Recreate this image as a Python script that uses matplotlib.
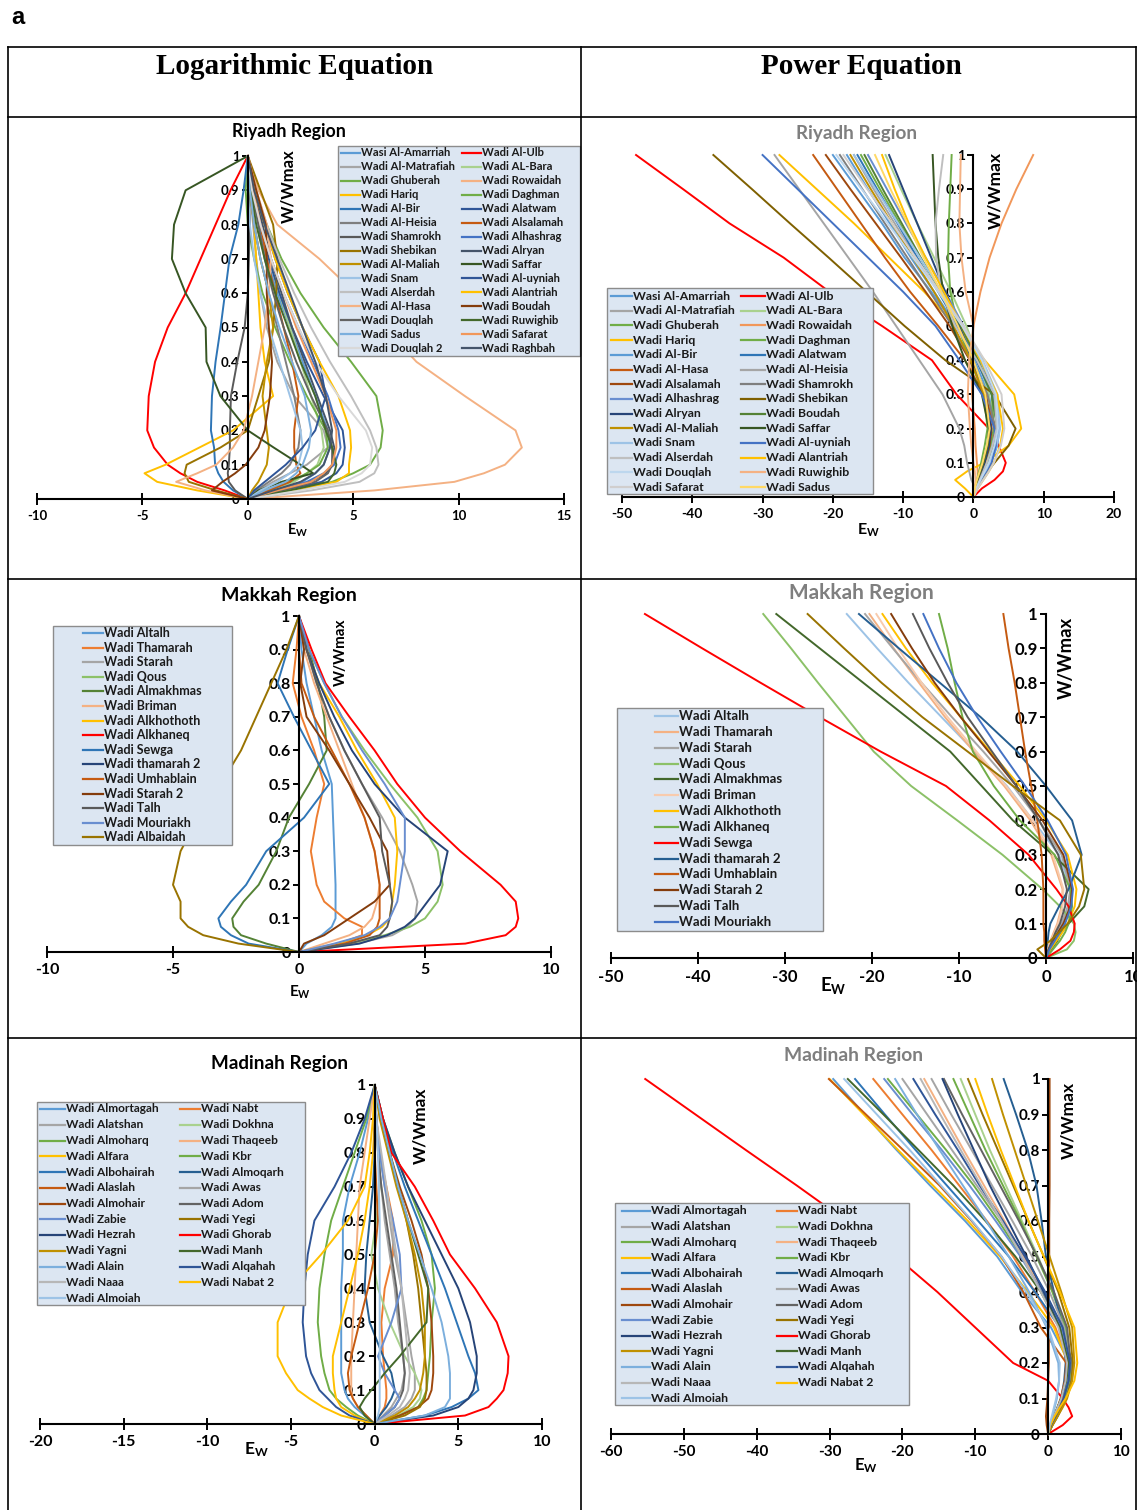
import matplotlib.pyplot as plt
from matplotlib.lines import Line2D
from matplotlib.patches import Rectangle

plt.rcParams['font.family'] = ['Lato', 'DejaVu Sans']
plt.rcParams['mathtext.fontset'] = 'custom'
plt.rcParams['mathtext.rm'] = 'Lato:bold'
plt.rcParams['mathtext.it'] = 'Lato:bold'
plt.rcParams['mathtext.bf'] = 'Lato:bold'

# relative width W/Wmax at which every profile is sampled
w_levels = [0, 0.025, 0.05, 0.075, 0.1, 0.15, 0.2, 0.3, 0.4, 0.5, 0.6, 0.7, 0.8, 0.9, 1.0]

# ---------------- Riyadh, logarithmic equation ----------------
riyadh_log_names = [
    'Wasi Al-Amarriah', 'Wadi Al-Ulb', 'Wadi Al-Matrafiah', 'Wadi AL-Bara',
    'Wadi Ghuberah', 'Wadi Rowaidah', 'Wadi Hariq', 'Wadi Daghman',
    'Wadi Al-Bir', 'Wadi Alatwam', 'Wadi Al-Heisia', 'Wadi Alsalamah',
    'Wadi Shamrokh', 'Wadi Alhashrag', 'Wadi Shebikan', 'Wadi Alryan',
    'Wadi Al-Maliah', 'Wadi Saffar', 'Wadi Snam', 'Wadi Al-uyniah',
    'Wadi Alserdah', 'Wadi Alantriah', 'Wadi Al-Hasa', 'Wadi Boudah',
    'Wadi Douqlah', 'Wadi Ruwighib', 'Wadi Sadus', 'Wadi Safarat',
    'Wadi Douqlah 2', 'Wadi Raghbah']
riyadh_log_colors = [
    '#5B9BD5', '#FF0000', '#A5A5A5', '#A9D18E', '#70AD47', '#F4B183', '#FFC000', '#70AD47',
    '#2E75B6', '#2F5597', '#7F7F7F', '#C55A11', '#595959', '#4472C4', '#997300', '#44546A',
    '#BF9000', '#375623', '#9DC3E6', '#2F5597', '#BFBFBF', '#FFC000', '#F4B183', '#843C0C',
    '#636363', '#43682B', '#7CAFDD', '#F1975A', '#D9D9D9', '#44546A']
riyadh_log_ew = [
    [0, 1.2, 2.6, 3.2, 3.6, 3.9, 3.8, 3.2, 2.6, 2.0, 1.4, 0.9, 0.5, 0.2, 0],
    [0, -1.1, -2.4, -3.2, -3.8, -4.45, -4.77, -4.7, -4.4, -3.8, -2.95, -2.24, -1.53, -0.82, 0],
    [0, 0.5, 1.2, 2.0, 2.8, 3.8, 3.6, 2.2, 1.4, 0.9, 0.6, 0.4, 0.25, 0.1, 0],
    [0, 1.0, 2.2, 2.8, 3.3, 3.6, 3.5, 3.0, 2.5, 2.0, 1.5, 1.0, 0.6, 0.25, 0],
    [0, 2.2, 4.0, 5.0, 5.8, 6.3, 6.4, 6.1, 4.9, 3.6, 2.5, 1.6, 0.9, 0.3, 0],
    [0, 6.0, 9.8, 11.2, 12.2, 13.0, 12.7, 10.3, 8.0, 6.5, 5.1, 3.4, 1.4, 0.5, 0],
    [0, -2.4, -4.3, -4.9, -3.9, -2.3, -0.7, 1.2, 0.8, 0.6, 0.5, 0.4, 0.3, 0.1, 0],
    [0, 0.8, 2.0, 2.8, 3.4, 3.8, 3.7, 2.8, 2.0, 1.3, 0.7, 0.3, 0.0, -0.1, 0],
    [0, -0.7, -1.15, -1.4, -1.55, -1.6, -1.75, -1.7, -1.53, -1.29, -1.08, -0.87, -0.45, -0.2, 0],
    [0, 1.8, 3.5, 4.2, 4.5, 4.6, 4.5, 3.6, 2.8, 2.1, 1.5, 1.0, 0.6, 0.25, 0],
    [0, 0.4, 1.0, 1.6, 2.0, 2.4, 2.5, 2.2, 1.8, 1.4, 1.0, 0.6, 0.3, 0.1, 0],
    [0, 1.0, 2.0, 2.5, 2.3, 2.2, 2.2, 2.4, 2.1, 1.7, 1.3, 0.9, 0.6, 0.2, 0],
    [0, -0.6, -0.9, -0.95, -0.9, -0.85, -0.85, -0.8, -0.5, -0.15, 0, 0.05, 0.1, 0.05, 0],
    [0, 1.4, 2.8, 3.6, 4.1, 4.4, 4.3, 3.8, 3.1, 2.4, 1.7, 1.1, 0.6, 0.2, 0],
    [0, -1.5, -2.8, -3.0, -2.9, -1.3, 0.0, 0.5, 1.0, 1.2, 1.35, 1.4, 1.2, 0.6, 0],
    [0, 1.5, 3.0, 3.7, 4.0, 4.1, 3.9, 3.3, 2.7, 2.1, 1.6, 1.1, 0.7, 0.3, 0],
    [0, 0.2, 0.5, 0.7, 0.9, 1.0, 0.9, 0.7, 0.9, 1.2, 1.0, 0.6, 0.3, 0.1, 0],
    [0, 0.5, 1.6, 3.1, 2.5, 1.23, 0.0, -1.3, -1.96, -2.0, -2.95, -3.6, -3.5, -2.95, 0],
    [0, 0.6, 1.4, 2.0, 2.4, 2.6, 2.5, 2.0, 1.5, 1.0, 0.6, 0.3, 0.1, 0.0, 0],
    [0, 0.3, 0.8, 1.3, 1.8, 2.6, 3.2, 3.7, 3.4, 2.6, 1.9, 1.3, 0.8, 0.3, 0],
    [0, 3.0, 5.3, 6.0, 6.2, 6.1, 5.8, 4.9, 3.9, 3.0, 2.2, 1.5, 0.9, 0.4, 0],
    [0, 2.0, 4.2, 4.8, 4.8, 4.9, 4.85, 4.3, 3.4, 2.6, 1.9, 1.3, 0.8, 0.3, 0],
    [0, -2.0, -3.4, -2.4, -1.5, -0.7, -0.2, 0.2, 0.5, 0.8, 1.0, 1.1, 0.9, 0.4, 0],
    [0, -1.7, -1.2, -0.6, -0.1, 0.5, 0.8, 1.05, 1.15, 1.0, 0.9, 0.9, 0.85, 0.4, 0],
    [0, 1.6, 3.2, 3.8, 4.0, 4.0, 3.8, 3.0, 2.3, 1.7, 1.2, 0.8, 0.5, 0.2, 0],
    [0, 2.0, 3.8, 4.1, 4.2, 4.0, 3.7, 3.2, 2.5, 1.9, 1.3, 0.8, 0.4, 0.15, 0],
    [0, 0.8, 1.8, 2.3, 2.6, 2.9, 3.0, 2.7, 2.1, 1.5, 1.0, 0.6, 0.3, 0.1, 0],
    [0, 1.4, 3.0, 3.6, 4.0, 4.2, 4.2, 3.7, 3.0, 2.3, 1.7, 1.1, 0.6, 0.25, 0],
    [0, 2.5, 4.6, 5.4, 5.8, 5.9, 5.6, 4.3, 3.2, 2.4, 1.7, 1.1, 0.6, 0.2, 0],
    [0, 1.2, 2.5, 3.2, 3.6, 3.9, 4.0, 3.7, 3.2, 2.6, 2.0, 1.4, 0.8, 0.3, 0]]

# ---------------- Riyadh, power equation ----------------
riyadh_pow_names = [
    'Wasi Al-Amarriah', 'Wadi Al-Ulb', 'Wadi Al-Matrafiah', 'Wadi AL-Bara',
    'Wadi Ghuberah', 'Wadi Rowaidah', 'Wadi Hariq', 'Wadi Daghman',
    'Wadi Al-Bir', 'Wadi Alatwam', 'Wadi Al-Hasa', 'Wadi Al-Heisia',
    'Wadi Alsalamah', 'Wadi Shamrokh', 'Wadi Alhashrag', 'Wadi Shebikan',
    'Wadi Alryan', 'Wadi Boudah', 'Wadi Al-Maliah', 'Wadi Saffar',
    'Wadi Snam', 'Wadi Al-uyniah', 'Wadi Alserdah', 'Wadi Alantriah',
    'Wadi Douqlah', 'Wadi Ruwighib', 'Wadi Safarat', 'Wadi Sadus']
riyadh_pow_colors = [
    '#5B9BD5', '#FF0000', '#A5A5A5', '#A9D18E', '#70AD47', '#F1975A', '#FFC000', '#70AD47',
    '#5B9BD5', '#2E75B6', '#C55A11', '#A5A5A5', '#9E480E', '#7F7F7F', '#698ED0', '#7F6000',
    '#264478', '#548235', '#BF9000', '#375623', '#9DC3E6', '#4472C4', '#BFBFBF', '#FFC000',
    '#BDD7EE', '#F4B183', '#D0CECE', '#FFD966']
riyadh_pow_ew = [
    [0, 0.3, 0.8, 1.3, 1.8, 2.6, 3.0, 2.2, 0.1, -2.4, -5.6, -8.9, -11.9, -15.0, -18.0],
    [0, 1.2, 3.0, 4.2, 4.6, 3.6, 2.2, -2.4, -5.9, -13.0, -20.5, -27.0, -34.7, -41.3, -48.0],
    [0, 0.4, 1.0, 1.6, 2.2, 3.0, 3.4, 2.8, 0.6, -2.0, -5.0, -8.2, -11.2, -14.2, -17.0],
    [0, 0.2, 0.6, 1.0, 1.4, 2.0, 2.5, 2.2, 0.8, -1.0, -3.2, -5.6, -8.0, -10.3, -12.5],
    [0, 0.3, 0.7, 1.2, 1.7, 2.4, 2.9, 2.6, 0.7, -1.8, -4.6, -7.6, -10.5, -13.3, -16.0],
    [0, 0.3, 0.6, 0.6, 0.5, 0.3, 0.2, -0.2, -0.3, 0.0, 1.0, 2.3, 4.0, 6.1, 8.5],
    [0, -1.2, -2.6, -0.9, 1.5, 5.0, 6.8, 5.8, 1.6, -2.5, -7.0, -12.0, -17.0, -22.3, -27.6],
    [0, 0.2, 0.5, 0.8, 1.1, 1.6, 2.0, 1.5, -0.5, -2.2, -3.3, -3.6, -3.5, -3.3, -3.1],
    [0, 0.5, 1.2, 1.9, 2.5, 3.4, 3.7, 2.9, 0.5, -2.5, -6.0, -9.8, -13.0, -16.5, -20.0],
    [0, 0.4, 1.0, 1.6, 2.2, 3.1, 3.5, 2.6, 0.4, -2.2, -5.0, -8.0, -10.8, -13.7, -16.5],
    [0, 0.3, 0.8, 1.5, 2.2, 3.0, 3.2, 1.5, -1.2, -5.0, -9.0, -12.6, -16.0, -19.4, -22.8],
    [0, 0.3, -0.3, -0.6, -0.9, -1.3, -2.0, -4.4, -7.7, -11.0, -14.3, -17.8, -21.3, -24.8, -28.3],
    [0, 0.2, 0.6, 1.1, 1.6, 2.3, 2.6, 1.8, -0.5, -3.4, -6.8, -10.3, -13.9, -17.5, -21.0],
    [0, 0.4, 1.0, 1.5, 2.0, 2.8, 3.1, 2.0, -0.4, -3.0, -6.2, -9.4, -12.6, -15.8, -19.0],
    [0, 0.5, 1.1, 1.7, 2.3, 3.2, 3.6, 3.0, 1.0, -1.4, -4.0, -6.8, -9.6, -12.3, -15.0],
    [0, 0.4, 1.0, 2.0, 3.0, 5.0, 6.0, 3.0, -4.0, -9.8, -15.2, -20.6, -26.1, -31.5, -37.0],
    [0, 0.3, 0.8, 1.2, 1.6, 2.2, 2.5, 1.6, -0.2, -2.0, -4.0, -6.0, -8.0, -10.0, -12.0],
    [0, 0.3, 0.9, 1.5, 2.1, 3.0, 3.4, 2.6, 0.6, -1.8, -4.6, -7.5, -10.2, -12.9, -15.5],
    [0, 0.2, 0.6, 1.0, 1.4, 2.0, 2.3, 1.5, -0.4, -2.8, -5.6, -8.6, -11.6, -14.6, -17.5],
    [0, 0.2, 0.6, 1.0, 1.4, 2.0, 2.2, 1.2, -1.2, -3.0, -4.3, -5.0, -5.4, -5.6, -5.8],
    [0, 0.5, 1.2, 1.8, 2.4, 3.3, 3.8, 3.4, 1.3, -1.5, -4.5, -7.6, -10.7, -13.9, -17.0],
    [0, 0.5, 1.2, 2.0, 2.6, 3.2, 3.0, 1.2, -2.0, -5.4, -10.0, -15.0, -20.0, -25.0, -30.0],
    [0, 0.4, 0.9, 1.4, 1.9, 2.7, 3.3, 3.0, 0.5, -2.6, -4.6, -5.3, -5.4, -4.9, -4.3],
    [0, 0.6, 1.4, 2.2, 2.9, 3.8, 4.2, 3.4, 1.0, -1.6, -4.2, -6.8, -9.2, -11.2, -13.0],
    [0, 0.4, 1.0, 1.6, 2.2, 3.0, 3.5, 3.2, 1.2, -1.6, -5.0, -8.6, -12.2, -15.9, -19.5],
    [0, 0.2, 0.3, 0.2, 0.0, -0.3, -0.5, -0.8, -0.6, 0.0, -1.1, -1.7, -2.0, -1.9, -1.8],
    [0, 0.6, 1.4, 2.2, 2.9, 3.9, 4.4, 4.0, 1.6, -1.4, -4.8, -8.2, -11.6, -15.1, -18.5],
    [0, 0.2, 0.5, 0.9, 1.3, 1.9, 2.3, 1.7, 0.0, -2.2, -4.6, -7.1, -9.4, -11.8, -14.0]]

# ---------------- Makkah, logarithmic equation ----------------
makkah_log_names = [
    'Wadi Altalh', 'Wadi Thamarah', 'Wadi Starah', 'Wadi Qous', 'Wadi Almakhmas',
    'Wadi Briman', 'Wadi Alkhothoth', 'Wadi Alkhaneq', 'Wadi Sewga', 'Wadi thamarah 2',
    'Wadi Umhablain', 'Wadi Starah 2', 'Wadi Talh', 'Wadi Mouriakh', 'Wadi Albaidah']
makkah_log_colors = [
    '#5B9BD5', '#ED7D31', '#A5A5A5', '#8CC168', '#548235', '#F4B183', '#FFC000', '#FF0000',
    '#2E75B6', '#264478', '#C55A11', '#843C0C', '#595959', '#698ED0', '#997300']
makkah_log_ew = [
    [0, 0.3, 0.9, 1.3, 1.45, 1.45, 1.45, 1.4, 1.35, 1.3, 0.9, 0.6, 0.3, 0.1, 0],
    [0, 1.6, 2.5, 2.5, 1.8, 1.0, 0.7, 0.47, 0.7, 1.0, 0.6, 0.1, -0.25, -0.1, 0],
    [0, 2.3, 3.7, 4.3, 4.6, 4.7, 4.5, 4.0, 3.3, 2.5, 1.8, 1.2, 0.7, 0.3, 0],
    [0, 2.0, 3.4, 4.4, 5.0, 5.5, 5.7, 5.5, 4.7, 3.6, 2.6, 1.7, 1.0, 0.4, 0],
    [0, -1.3, -2.3, -2.6, -2.65, -2.2, -1.6, -0.9, -0.4, 0.4, 1.1, 1.0, 0.75, 0.4, 0],
    [0, 1.0, 2.0, 2.6, 2.9, 3.1, 3.2, 3.0, 2.6, 2.1, 1.6, 1.1, 0.6, 0.2, 0],
    [0, 1.5, 2.7, 3.3, 3.6, 3.7, 3.8, 3.9, 3.8, 3.1, 2.3, 1.6, 0.8, 0.3, 0],
    [0, 6.6, 8.2, 8.6, 8.7, 8.6, 8.0, 6.4, 5.0, 3.9, 3.0, 2.0, 1.05, 0.5, 0],
    [0, -2.0, -2.7, -3.1, -3.2, -2.7, -2.1, -1.3, 0.2, 1.2, 0.5, -0.2, -0.85, -0.45, 0],
    [0, 2.4, 3.5, 4.2, 4.6, 5.1, 5.6, 5.9, 4.2, 3.0, 2.1, 1.4, 0.8, 0.3, 0],
    [0, 1.8, 2.8, 3.1, 3.2, 3.2, 3.2, 3.0, 2.6, 2.0, 1.3, 0.6, 0.1, 0.0, 0],
    [0, 0.2, 1.0, 1.5, 2.0, 3.0, 3.6, 3.5, 2.8, 2.0, 1.2, 0.3, 0.05, 0.2, 0],
    [0, 2.0, 3.2, 3.5, 3.6, 3.7, 3.6, 3.3, 3.2, 2.5, 1.8, 1.2, 0.7, 0.3, 0],
    [0, 1.4, 2.6, 3.2, 3.6, 3.9, 4.0, 4.2, 4.2, 3.4, 2.5, 1.7, 1.0, 0.4, 0],
    [0, -2.4, -3.8, -4.4, -4.7, -4.7, -5.0, -4.7, -4.0, -3.1, -2.3, -1.7, -1.1, -0.5, 0]]

# ---------------- Makkah, power equation ----------------
makkah_pow_names = [
    'Wadi Altalh', 'Wadi Thamarah', 'Wadi Starah', 'Wadi Qous', 'Wadi Almakhmas',
    'Wadi Briman', 'Wadi Alkhothoth', 'Wadi Alkhaneq', 'Wadi Sewga', 'Wadi thamarah 2',
    'Wadi Umhablain', 'Wadi Starah 2', 'Wadi Talh', 'Wadi Mouriakh', 'Wadi Albaidah']
makkah_pow_colors = [
    '#9DC3E6', '#F4B183', '#A5A5A5', '#8CC168', '#43682B', '#F8CBAD', '#FFC000', '#70AD47',
    '#FF0000', '#255E91', '#C55A11', '#843C0C', '#595959', '#4472C4', '#997300']
makkah_pow_ew = [
    [0, 0.3, 0.8, 1.3, 1.8, 2.6, 2.8, 1.5, -1.5, -4.5, -8.2, -12.0, -15.8, -19.4, -22.9],
    [0, 0.2, 0.5, 0.9, 1.3, 1.8, 1.9, 0.6, -1.8, -4.8, -8.3, -11.6, -14.6, -17.5, -20.3],
    [0, 0.3, 0.8, 1.3, 1.8, 2.5, 2.8, 1.8, -0.8, -3.8, -7.2, -10.8, -14.3, -17.6, -20.8],
    [0, 2.4, 3.2, 3.4, 3.2, 1.6, -0.4, -5.0, -10.2, -15.5, -19.8, -23.0, -26.2, -29.3, -32.5],
    [0, 0.6, 1.3, 1.8, 2.6, 4.4, 4.9, 0.8, -3.8, -7.4, -11.0, -16.0, -21.0, -26.0, -31.0],
    [0, 0.2, 0.6, 1.0, 1.4, 1.9, 2.0, 0.8, -1.5, -4.6, -8.0, -11.3, -14.3, -17.0, -19.5],
    [0, 0.5, 1.2, 1.9, 2.5, 3.3, 3.5, 2.5, 0.0, -3.0, -6.4, -9.8, -13.1, -16.1, -18.8],
    [0, 0.8, 1.6, 2.2, 2.6, 3.0, 2.8, 1.0, -3.0, -6.0, -8.4, -9.6, -10.5, -11.3, -12.3],
    [0, 1.6, 2.8, 3.2, 3.3, 2.6, 1.2, -2.0, -6.5, -11.5, -19.0, -26.0, -32.8, -39.5, -46.1],
    [0, 0.0, 0.2, 0.3, 0.5, 1.5, 2.6, 4.1, 3.0, 0.0, -3.3, -7.5, -12.2, -16.9, -21.5],
    [0, -0.1, -0.2, -0.2, -0.3, -0.3, -0.3, -0.5, -1.0, -1.7, -2.4, -3.0, -3.6, -4.3, -4.9],
    [0, 0.3, 0.8, 1.4, 2.0, 2.8, 3.0, 2.0, -0.4, -3.4, -6.6, -9.8, -12.8, -15.4, -17.8],
    [0, 0.3, 0.7, 1.1, 1.6, 2.2, 2.4, 1.4, -0.8, -3.4, -6.2, -9.0, -11.3, -13.4, -15.3],
    [0, 0.4, 1.0, 1.6, 2.2, 2.9, 3.1, 2.3, 0.2, -2.4, -5.2, -7.9, -10.3, -12.3, -14.1],
    [0, -1.0, 0.5, 1.5, 2.5, 3.8, 4.4, 4.0, 1.6, -3.8, -9.0, -14.2, -18.9, -23.2, -27.4]]

# ---------------- Madinah (same wadis in both panels) ----------------
madinah_names = [
    'Wadi Almortagah', 'Wadi Nabt', 'Wadi Alatshan', 'Wadi Dokhna', 'Wadi Almoharq',
    'Wadi Thaqeeb', 'Wadi Alfara', 'Wadi Kbr', 'Wadi Albohairah', 'Wadi Almoqarh',
    'Wadi Alaslah', 'Wadi Awas', 'Wadi Almohair', 'Wadi Adom', 'Wadi Zabie',
    'Wadi Yegi', 'Wadi Hezrah', 'Wadi Ghorab', 'Wadi Yagni', 'Wadi Manh',
    'Wadi Alain', 'Wadi Alqahah', 'Wadi Naaa', 'Wadi Nabat 2', 'Wadi Almoiah']
madinah_colors = [
    '#5B9BD5', '#ED7D31', '#A5A5A5', '#A9D18E', '#70AD47', '#F4B183', '#FFC000', '#70AD47',
    '#2E75B6', '#255E91', '#C55A11', '#A5A5A5', '#9E480E', '#636363', '#698ED0', '#997300',
    '#264478', '#FF0000', '#BF9000', '#43682B', '#7CAFDD', '#2F5597', '#B7B7B7', '#FFC000',
    '#9DC3E6']
madinah_log_ew = [
    [0, -0.6, -1.2, -1.6, -1.8, -2.0, -2.0, -2.0, -2.0, -1.9, -1.9, -1.5, -0.9, -0.4, 0],
    [0, 0.3, 0.6, 0.7, 0.7, 0.6, 0.5, 0.4, 0.6, 1.1, 1.1, 0.7, 0.3, 0.1, 0],
    [0, 1.0, 1.8, 2.2, 2.4, 2.4, 2.2, 1.9, 1.6, 1.2, 0.9, 0.6, 0.3, 0.1, 0],
    [0, 1.4, 2.3, 2.7, 2.8, 2.4, 1.8, 0.9, 0.2, -0.2, 0.1, 0.3, 0.3, 0.1, 0],
    [0, -1.0, -1.7, -2.3, -2.7, -3.0, -3.2, -3.4, -3.3, -3.0, -2.6, -1.9, -1.2, -0.5, 0],
    [0, -0.5, -1.0, -1.3, -1.4, -1.4, -1.4, -1.3, -1.2, -1.1, -1.0, -0.9, -0.6, -0.3, 0],
    [0, -1.2, -2.0, -2.3, -2.4, -2.5, -2.5, -2.0, -1.5, -1.0, -0.6, -0.3, -0.1, 0.0, 0],
    [0, 1.5, 2.6, 2.9, 3.1, 3.2, 3.3, 3.4, 3.6, 3.4, 2.8, 2.0, 1.2, 0.5, 0],
    [0, 3.0, 4.6, 5.6, 6.2, 6.0, 5.6, 4.9, 4.2, 3.4, 2.6, 1.8, 1.1, 0.5, 0],
    [0, 0.3, 0.7, 1.0, 1.2, 1.0, 0.5, -0.3, -0.6, -0.5, -0.3, -0.1, 0.0, 0.0, 0],
    [0, -0.5, -1.0, -1.3, -1.5, -1.6, -1.4, -0.9, -0.4, 0.0, 0.2, 0.1, 0.0, 0.0, 0],
    [0, 0.5, 1.0, 1.3, 1.6, 1.8, 1.7, 1.4, 1.2, 0.9, 0.6, 0.4, 0.2, 0.1, 0],
    [0, 1.5, 2.6, 3.2, 3.4, 3.5, 3.5, 3.4, 3.2, 2.8, 2.2, 1.5, 0.9, 0.4, 0],
    [0, 0.6, 1.2, 1.5, 1.7, 1.8, 1.7, 1.5, 1.3, 1.0, 0.7, 0.4, 0.2, 0.1, 0],
    [0, 0.6, 1.2, 1.5, 1.2, 0.6, 0.2, 1.0, 1.6, 1.5, 1.1, 0.6, 0.3, 0.1, 0],
    [0, 1.8, 2.7, 3.0, 3.1, 3.1, 3.0, 2.8, 2.6, 2.3, 1.9, 1.4, 0.9, 0.4, 0],
    [0, 3.5, 5.0, 5.6, 5.9, 6.1, 6.1, 5.7, 5.0, 4.0, 3.0, 2.0, 1.2, 0.5, 0],
    [0, 5.4, 6.8, 7.3, 7.7, 7.95, 8.0, 7.3, 6.0, 4.5, 3.5, 2.4, 1.0, 0.5, 0],
    [0, 1.2, 2.0, 2.4, 2.7, 2.9, 3.0, 3.0, 2.8, 2.4, 1.9, 1.3, 0.8, 0.3, 0],
    [0, -0.6, -0.9, -0.6, -0.2, 0.6, 1.5, 3.1, 3.2, 2.6, 2.0, 1.4, 0.9, 0.4, 0],
    [0, 3.0, 4.2, 4.5, 4.5, 4.5, 4.4, 4.0, 3.4, 2.7, 2.0, 1.4, 0.9, 0.4, 0],
    [0, -1.5, -2.3, -2.8, -3.3, -3.8, -4.1, -4.3, -4.2, -4.0, -3.6, -2.4, -1.4, -0.6, 0],
    [0, 0.8, 1.5, 1.8, 2.0, 2.1, 2.0, 1.8, 1.6, 1.3, 1.0, 0.7, 0.4, 0.1, 0],
    [0, -2.0, -3.1, -3.9, -4.6, -5.3, -5.8, -5.8, -5.0, -3.2, -1.6, -0.6, -0.3, -0.1, 0],
    [0, 0.2, 0.3, 0.3, 0.3, 0.3, 0.3, 0.3, 0.3, 0.3, 0.3, 0.25, 0.2, 0.1, 0]]
madinah_pow_ew = [
    [0, 0.5, 1.1, 1.6, 2.1, 2.7, 2.9, 0.4, -3.6, -7.0, -11.4, -16.2, -20.8, -25.2, -29.5],
    [0, 0.4, 1.0, 1.5, 2.0, 2.6, 2.8, 1.0, -1.8, -4.8, -8.4, -12.2, -16.0, -20.0, -24.0],
    [0, 0.5, 1.1, 1.7, 2.3, 3.0, 3.2, 2.0, -0.5, -3.2, -6.4, -9.8, -13.2, -16.6, -20.0],
    [0, 0.4, 0.9, 1.4, 1.9, 2.6, 2.9, 2.3, 0.6, -1.4, -3.6, -5.8, -8.0, -10.0, -12.0],
    [0, 0.3, 0.8, 1.3, 1.8, 2.5, 2.8, 1.8, -0.6, -3.6, -6.8, -10.2, -14.0, -18.0, -22.0],
    [0, 0.4, 0.9, 1.4, 1.9, 2.5, 2.7, 1.6, -0.8, -3.4, -6.0, -8.8, -11.6, -14.3, -17.0],
    [0, 0.3, 0.8, 1.3, 1.8, 2.5, 2.7, 0.8, -2.8, -6.6, -11.0, -15.8, -20.6, -25.3, -30.0],
    [0, 0.5, 1.1, 1.7, 2.2, 2.9, 3.1, 2.4, 0.6, -1.6, -3.8, -6.2, -8.6, -10.8, -13.0],
    [0, 0.6, 1.3, 1.9, 2.5, 3.2, 3.4, 1.6, -1.8, -5.4, -9.6, -13.9, -18.2, -22.4, -26.5],
    [0, 0.5, 1.0, 1.4, 1.8, 2.2, 2.4, 2.0, 0.8, -0.3, -0.9, -1.6, -2.8, -4.4, -6.1],
    [0, 0.4, 0.9, 1.3, 1.7, 2.3, 2.5, -1.0, -3.4, -6.4, -10.5, -14.9, -19.9, -25.0, -30.1],
    [0, 0.4, 1.0, 1.5, 2.0, 2.7, 3.0, 2.2, 0.2, -2.2, -4.9, -7.7, -10.5, -13.3, -16.0],
    [0, -0.2, -0.3, -0.2, -0.1, 0.0, 0.1, 0.1, 0.1, 0.15, 0.15, 0.2, 0.2, 0.2, 0.2],
    [0, 0.5, 1.1, 1.6, 2.1, 2.8, 3.1, 2.6, 0.8, -1.5, -4.0, -6.6, -9.2, -11.8, -14.3],
    [0, 0.4, 1.0, 1.5, 2.0, 2.7, 3.0, 1.8, -0.8, -3.8, -7.2, -10.8, -14.6, -18.6, -22.5],
    [0, 0.6, 1.3, 1.9, 2.5, 3.2, 3.4, 2.9, 1.4, -0.6, -2.7, -4.8, -6.9, -9.0, -11.0],
    [0, 0.3, 0.8, 1.3, 1.8, 2.4, 2.6, 1.6, -0.6, -3.0, -5.5, -8.0, -10.2, -12.4, -14.5],
    [0, 2.0, 3.3, 2.8, 2.0, 0.0, -4.8, -10.0, -15.2, -20.9, -27.7, -34.5, -41.5, -48.4, -55.3],
    [0, 0.6, 1.3, 2.0, 2.6, 3.3, 3.6, 3.3, 1.8, 0.2, -1.4, -3.0, -4.6, -6.2, -7.7],
    [0, 0.3, 0.8, 1.3, 1.8, 2.5, 2.8, 1.6, -1.0, -4.5, -8.6, -13.0, -17.8, -22.6, -27.5],
    [0, 0.3, 0.6, 0.9, 1.2, 1.5, 1.4, -0.2, -2.6, -5.4, -8.5, -11.7, -14.9, -18.0, -21.0],
    [0, 0.4, 1.0, 1.5, 2.1, 2.8, 3.0, 2.0, -0.4, -3.2, -6.2, -9.4, -12.4, -15.5, -18.5],
    [0, 0.3, 0.8, 1.3, 1.8, 2.4, 2.6, 1.4, -1.0, -3.6, -6.4, -9.2, -12.0, -14.8, -17.5],
    [0, 0.3, 0.9, 1.6, 2.4, 3.6, 4.0, 3.6, 1.6, -0.6, -2.7, -4.6, -6.5, -8.3, -10.0],
    [0, 0.2, 0.5, 0.8, 1.1, 1.5, 1.6, 0.0, -3.0, -6.4, -10.4, -14.7, -19.0, -23.5, -28.0]]

W, H = 1137, 1510
fig = plt.figure(figsize=(W / 100, H / 100), dpi=100)


def fx(px):
    return px / W


def fy(py):
    return 1 - py / H


def legend_box(names, colors, box, columns, first_row, pitch, size):
    """Excel-style legend: entries run along rows, then down."""
    x0, y0, x1, y1 = box
    fig.add_artist(Rectangle((fx(x0), fy(y1)), fx(x1) - fx(x0), fy(y0) - fy(y1),
                             transform=fig.transFigure, facecolor='#DCE6F2',
                             edgecolor='#8C8C8C', lw=1.0, zorder=4))
    ncol = len(columns)
    for i, (name, c) in enumerate(zip(names, colors)):
        h0, h1 = columns[i % ncol]
        y = first_row + (i // ncol) * pitch
        fig.add_artist(Line2D([fx(h0), fx(h1)], [fy(y), fy(y)], transform=fig.transFigure,
                              color=c, lw=1.6, zorder=5))
        fig.text(fx(h1 + 1), fy(y), name, ha='left', va='center', fontsize=size,
                 fontweight='bold', color='#1A1A1A', zorder=6)


def panel(box, xlim, xticks, names, ew, colors, title, title_xy, title_size, title_color,
          tick_size, ew_xy, ew_size, wmax_xy, wmax_size):
    x0, x1, y0, y1 = box  # pixel positions of the data window
    ax = fig.add_axes([fx(x0), fy(y0), fx(x1) - fx(x0), fy(y1) - fy(y0)])
    ax.patch.set_visible(False)
    for xs, c in zip(ew, colors):
        ax.plot(xs, w_levels, color=c, lw=1.4, clip_on=False)
    ax.set_xlim(*xlim)
    ax.set_ylim(0, 1)
    ax.spines['left'].set_position(('data', 0))
    ax.spines['top'].set_visible(False)
    ax.spines['right'].set_visible(False)
    for s in ('left', 'bottom'):
        ax.spines[s].set_linewidth(1.5)
    ax.set_xticks(xticks)
    ax.set_xticklabels([str(t) for t in xticks])
    yt = [i / 10 for i in range(11)]
    ax.set_yticks(yt)
    ax.set_yticklabels(['0'] + ['%.1f' % v for v in yt[1:-1]] + ['1'])
    ax.tick_params(axis='x', direction='inout', length=8, width=1.4, labelsize=tick_size, pad=4)
    ax.tick_params(axis='y', direction='out', length=4, width=1.4, labelsize=tick_size, pad=2)
    for lab in ax.get_xticklabels() + ax.get_yticklabels():
        lab.set_fontweight('bold')

    fig.text(fx(title_xy[0]), fy(title_xy[1]), title, ha='center', va='center',
             fontsize=title_size, fontweight='bold', color=title_color)
    fig.text(fx(ew_xy[0]), fy(ew_xy[1]), r'E$_\mathrm{W}$', ha='center', va='center',
             fontsize=ew_size, fontweight='bold')
    fig.text(fx(wmax_xy[0]), fy(wmax_xy[1]), 'W/Wmax', ha='center', va='center',
             rotation=90, fontsize=wmax_size, fontweight='bold')
    return ax


# Riyadh
panel((37, 564, 499, 156), (-10, 15), [-10, -5, 0, 5, 10, 15],
      riyadh_log_names, riyadh_log_ew, riyadh_log_colors,
      'Riyadh Region', (289, 132), 12.8, 'black', 9.5, (298, 530), 10.5, (288, 186), 12)
legend_box(riyadh_log_names, riyadh_log_colors, (338, 146, 580, 356),
           [(341, 360), (462, 481)], 153, 13.93, 8.1)

panel((622, 1114, 497, 155), (-50, 20), [-50, -40, -30, -20, -10, 0, 10, 20],
      riyadh_pow_names, riyadh_pow_ew, riyadh_pow_colors,
      'Riyadh Region', (857, 133), 13.6, '#7F7F7F', 10, (868, 530), 11.5, (995, 190), 12.5)
legend_box(riyadh_pow_names, riyadh_pow_colors, (607, 288, 873, 494),
           [(611, 632), (741, 765)], 296, 14.7, 8.8)

# Makkah
panel((47, 551, 952, 616), (-10, 10), [-10, -5, 0, 5, 10],
      makkah_log_names, makkah_log_ew, makkah_log_colors,
      'Makkah Region', (289, 595), 14, 'black', 11.5, (300, 992), 11, (341, 652), 11)
legend_box(makkah_log_names, makkah_log_colors, (53, 626, 232, 845),
           [(83, 103)], 633, 14.6, 9)

panel((611, 1133, 958, 614), (-50, 10), [-50, -40, -30, -20, -10, 0, 10],
      makkah_pow_names, makkah_pow_ew, makkah_pow_colors,
      'Makkah Region', (861, 593), 15, '#7F7F7F', 12, (833, 985), 13.5, (1066, 658), 13.3)
legend_box(makkah_pow_names[:14], makkah_pow_colors[:14], (617, 708, 823, 931),
           [(655, 678)], 716, 15.85, 9.5)

# Madinah
panel((40, 542, 1424, 1085), (-20, 10), [-20, -15, -10, -5, 0, 5, 10],
      madinah_names, madinah_log_ew, madinah_colors,
      'Madinah Region', (280, 1063), 13.6, 'black', 11.5, (256, 1450), 12.5, (420, 1126), 12.4)
legend_box(madinah_names, madinah_colors, (37, 1102, 305, 1305),
           [(40, 65), (180, 200)], 1109, 15.75, 8.6)

panel((611, 1121, 1434, 1079), (-60, 10), [-60, -50, -40, -30, -20, -10, 0, 10],
      madinah_names, madinah_pow_ew, madinah_colors,
      'Madinah Region', (854, 1056), 13.9, '#7F7F7F', 11, (866, 1466), 12, (1068, 1120), 12.5)
legend_box(madinah_names, madinah_colors, (615, 1203, 909, 1405),
           [(622, 650), (777, 797)], 1211, 15.6, 8.8)

# table frame around the six panels
frame = [((8, 47), (1136, 47)), ((8, 47), (8, 1510)), ((1136, 47), (1136, 1510)),
         ((581, 47), (581, 1510)), ((8, 117), (1136, 117)), ((8, 579), (1136, 579)),
         ((8, 1038), (1136, 1038))]
for (a, b), (c, d) in frame:
    fig.add_artist(Line2D([fx(a), fx(c)], [fy(b), fy(d)], transform=fig.transFigure,
                          color='black', lw=1.2, zorder=7))

fig.text(fx(295), fy(67), 'Logarithmic Equation', ha='center', va='center',
         fontsize=21, fontweight='bold', family='Liberation Serif')
fig.text(fx(861), fy(67), 'Power Equation', ha='center', va='center',
         fontsize=21, fontweight='bold', family='Liberation Serif')
fig.text(fx(18), fy(18), 'a', ha='center', va='center', fontsize=17,
         fontweight='bold', family='Liberation Sans')

fig.savefig('out.png', dpi=100)
